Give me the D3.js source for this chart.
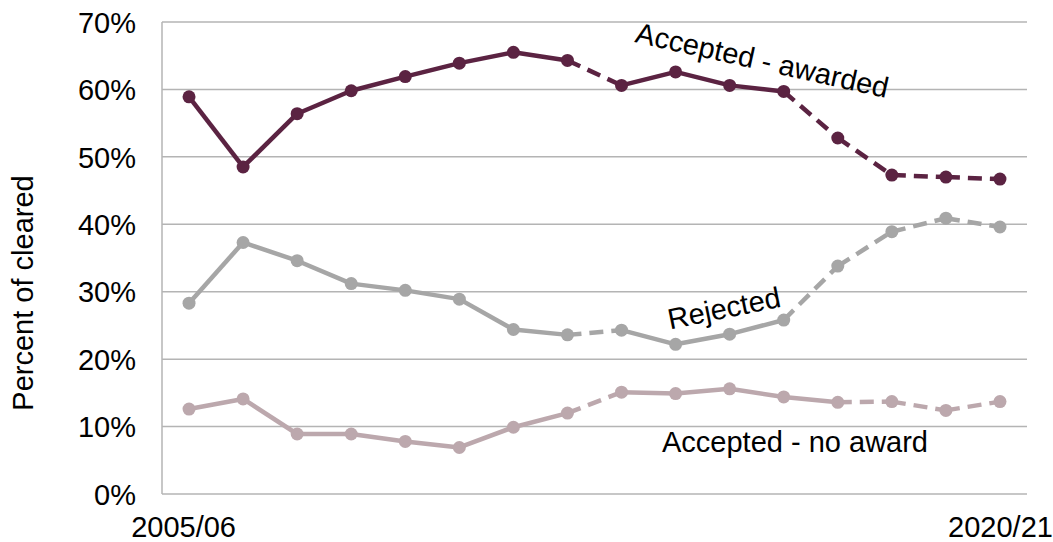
<!DOCTYPE html>
<html>
<head>
<meta charset="utf-8">
<script src="https://cdn.jsdelivr.net/npm/d3@7"></script>
<style>
  body { margin: 0; background: #fff; }
  text { font-family: "Liberation Sans", Arial, sans-serif; }
</style>
</head>
<body>
<svg id="chart"></svg>
<script>
const years = ['2005/06', '2006/07', '2007/08', '2008/09', '2009/10', '2010/11', '2011/12', '2012/13',
    '2013/14', '2014/15', '2015/16', '2016/17', '2017/18', '2018/19', '2019/20', '2020/21'];

const awarded = [58.9, 48.5, 56.4, 59.8, 61.9, 63.9, 65.5, 64.3, 60.6, 62.6, 60.6, 59.7, 52.8, 47.3, 47.0, 46.7];
const rejected = [28.3, 37.3, 34.6, 31.2, 30.2, 28.9, 24.4, 23.6, 24.3, 22.2, 23.7, 25.8, 33.8, 38.9, 40.9, 39.6];
const noAward = [12.6, 14.1, 8.9, 8.9, 7.8, 6.9, 9.9, 12.0, 15.1, 14.9, 15.6, 14.4, 13.6, 13.7, 12.4, 13.7];

// 1 = dashed segment from point i to i+1
const awardedDash = [0, 0, 0, 0, 0, 0, 0, 1, 0, 0, 0, 1, 1, 1, 1];
const rejectedDash = [0, 0, 0, 0, 0, 0, 0, 1, 0, 0, 0, 1, 1, 1, 1];
const noAwardDash = [0, 0, 0, 0, 0, 0, 0, 1, 0, 0, 0, 0, 1, 1, 1];

const yTicks = [0, 10, 20, 30, 40, 50, 60, 70];
const xLabels = ['2005/06', '2020/21'];

const series = [
    { name: 'Accepted - awarded', values: awarded, dash: awardedDash, color: '#5b2342' },
    { name: 'Rejected', values: rejected, dash: rejectedDash, color: '#a6a6a6' },
    { name: 'Accepted - no award', values: noAward, dash: noAwardDash, color: '#bca8ad' }
];

const width = 1053, height = 542;
const margin = { left: 162, right: 26, top: 22, bottom: 48 };
const fontSize = '29px';

const svg = d3.select('#chart')
    .attr('width', width)
    .attr('height', height);

const x = d3.scalePoint()
    .domain(years)
    .range([margin.left, width - margin.right])
    .padding(0.5);

const y = d3.scaleLinear()
    .domain([0, 70])
    .range([height - margin.bottom, margin.top]);

// gridlines
svg.append('g')
    .selectAll('line')
    .data(yTicks)
    .enter()
    .append('line')
    .attr('x1', margin.left)
    .attr('x2', width - margin.right)
    .attr('y1', d => y(d))
    .attr('y2', d => y(d))
    .style('stroke', '#b4b4b4')
    .style('stroke-width', 1.5);

// left axis line
svg.append('line')
    .attr('x1', margin.left).attr('x2', margin.left)
    .attr('y1', y(0)).attr('y2', y(70))
    .style('stroke', '#b4b4b4')
    .style('stroke-width', 1.5);

// y tick labels
const yAxis = svg.append('g')
    .attr('transform', `translate(${margin.left - 26},0)`)
    .call(d3.axisLeft(y).tickValues(yTicks).tickSize(0).tickFormat(d => d + '%'));
yAxis.select('.domain').remove();
yAxis.selectAll('text')
    .attr('x', 0)
    .attr('dy', '0.35em')
    .style('font-size', fontSize)
    .style('fill', '#000')
    .style('font-family', '"Liberation Sans", Arial, sans-serif');

// x labels (first and last only)
const xAxis = svg.append('g')
    .attr('transform', `translate(0,${y(0)})`)
    .call(d3.axisBottom(x).tickValues(xLabels).tickSize(0));
xAxis.select('.domain').remove();
xAxis.selectAll('text')
    .attr('y', 43)
    .attr('dy', 0)
    .attr('dx', d => d === '2005/06' ? -6 : 0)
    .style('font-size', fontSize)
    .style('fill', '#000')
    .style('font-family', '"Liberation Sans", Arial, sans-serif');

// y axis title
svg.append('text')
    .attr('transform', 'translate(33, 293) rotate(-90)')
    .attr('text-anchor', 'middle')
    .text('Percent of cleared')
    .style('font-size', fontSize)
    .style('fill', '#000');

const line = d3.line()
    .x(d => x(d.year))
    .y(d => y(d.value));

series.forEach(s => {
    const pts = s.values.map((v, i) => ({ year: years[i], value: v }));
    const g = svg.append('g');

    g.selectAll('path')
        .data(s.dash)
        .enter()
        .append('path')
        .attr('d', (d, i) => line([pts[i], pts[i + 1]]))
        .style('fill', 'none')
        .style('stroke', s.color)
        .style('stroke-width', 4.5)
        .style('stroke-dasharray', d => d ? '14,8' : null);

    g.selectAll('circle')
        .data(pts)
        .enter()
        .append('circle')
        .attr('cx', d => x(d.year))
        .attr('cy', d => y(d.value))
        .attr('r', 6.5)
        .style('fill', s.color);
});

// series labels
svg.append('text')
    .attr('transform', 'translate(760,70) rotate(12.5)')
    .attr('text-anchor', 'middle')
    .text('Accepted - awarded')
    .style('font-size', fontSize)
    .style('fill', '#000');

svg.append('text')
    .attr('transform', 'translate(726,318) rotate(-11.5)')
    .attr('text-anchor', 'middle')
    .text('Rejected')
    .style('font-size', fontSize)
    .style('fill', '#000');

svg.append('text')
    .attr('x', 795)
    .attr('y', 452)
    .attr('text-anchor', 'middle')
    .text('Accepted - no award')
    .style('font-size', fontSize)
    .style('fill', '#000');
</script>
</body>
</html>
